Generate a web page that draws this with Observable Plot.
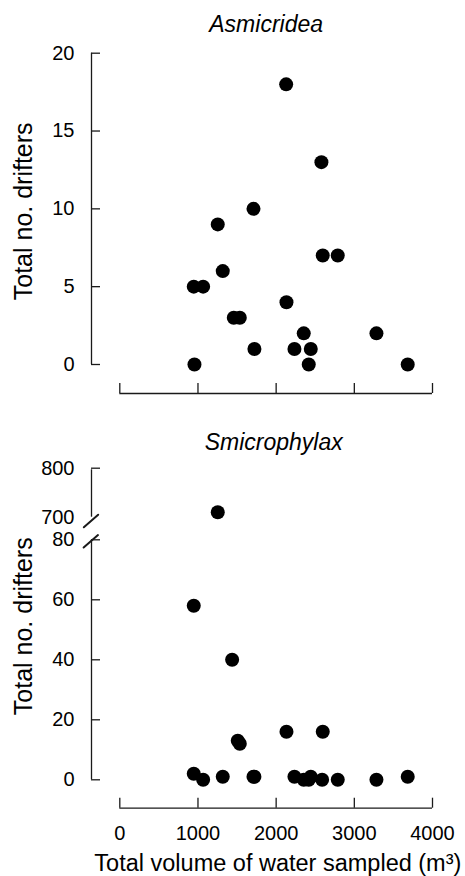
<!DOCTYPE html>
<html><head><meta charset="utf-8">
<script src="https://cdn.jsdelivr.net/npm/d3@7"></script>
<script src="https://cdn.jsdelivr.net/npm/@observablehq/plot@0.6"></script>
<style>
body{margin:0;background:#fff;}
#chart{position:relative;width:465px;height:876px;overflow:hidden;}
#chart svg{position:absolute;left:0;}
</style></head><body><div id="chart"></div>
<script>
// ---- data ----
const xTicks = [0, 1000, 2000, 3000, 4000];
const asmTitle = "Asmicridea";
const asmVolume   = [955, 946, 1066, 1253, 1317, 1458, 1535, 1710, 1722, 2128, 2132, 2234, 2353, 2443, 2417, 2579, 2596, 2788, 3283, 3683];
const asmDrifters = [0, 5, 5, 9, 6, 3, 3, 10, 1, 18, 4, 1, 2, 1, 0, 13, 7, 7, 2, 0];
const asmYTicks = [0, 5, 10, 15, 20];

const smiTitle = "Smicrophylax";
const smiVolume   = [1253, 946, 1437, 1509, 1535, 2132, 2596, 946, 1066, 1317, 1710, 1722, 2234, 2353, 2417, 2443, 2588, 2788, 3283, 3683];
const smiDrifters = [710, 58, 40, 13, 12, 16, 16, 2, 0, 1, 1, 1, 1, 0, 0, 1, 0, 0, 0, 1];
const smiLowTicks = [0, 20, 40, 60, 80];
const smiHighTicks = [700, 800];

const yLabel = "Total no. drifters";
const xLabel = "Total volume of water sampled (m³)";

// ---- build ----
const FONT = '"Liberation Sans", Arial, Helvetica, sans-serif';
const AX = "#1a1a1a";
const AXW = 1.3;
const W = 465, ML = 119.3, MR = 33;
const style = {fontFamily: FONT, color: "#000", background: "transparent", overflow: "visible"};
const fmt = d => String(d);

const asmRows = asmVolume.map((v, i) => ({volume: v, drifters: asmDrifters[i]}));
const smiRows = smiVolume.map((v, i) => ({volume: v, drifters: smiDrifters[i]}));
const breakAt = smiLowTicks[smiLowTicks.length - 1];
const smiHigh = smiRows.filter(d => d.drifters > breakAt);
const smiLow = smiRows.filter(d => d.drifters <= breakAt);

const slashShape = {draw(ctx, l) { ctx.moveTo(0, 0); ctx.lineTo(0, -l); }};
function slash(frameAnchor, dx, dy) {
  try {
    return Plot.vector([0], {frameAnchor, dx, dy, length: 19, rotate: 49, anchor: "middle", shape: slashShape, stroke: AX, strokeWidth: 2});
  } catch (e) {
    return Plot.text(["\u2014"], {frameAnchor, dx, dy, rotate: -49, fontSize: 22, fontWeight: "bold"});
  }
}

const chart = document.getElementById("chart");
function place(svg, top) { svg.style.top = top + "px"; chart.appendChild(svg); }

// Top panel
const topPlot = Plot.plot({
  width: W, height: 420,
  marginLeft: ML, marginRight: MR, marginTop: 52.7, marginBottom: 56,
  x: {domain: [xTicks[0], xTicks[xTicks.length - 1]]},
  y: {domain: [asmYTicks[0], asmYTicks[asmYTicks.length - 1]]},
  style,
  marks: [
    Plot.ruleX([xTicks[0]], {y1: asmYTicks[0], y2: asmYTicks[asmYTicks.length - 1], dx: -28.3, stroke: AX, strokeWidth: AXW}),
    Plot.axisY(asmYTicks, {dx: -19.3, tickSize: 9, tickPadding: 17, fontSize: 20, label: null, tickFormat: fmt, stroke: AX, strokeWidth: AXW, fill: "#000"}),
    Plot.ruleY([asmYTicks[0]], {x1: xTicks[0], x2: xTicks[xTicks.length - 1], dy: 29, stroke: AX, strokeWidth: AXW}),
    Plot.axisX(xTicks, {dy: 19, tickSize: 10, fill: "none", label: null, stroke: AX, strokeWidth: AXW}),
    Plot.dot(asmRows, {x: "volume", y: "drifters", r: 7, fill: "#000"}),
    Plot.text([asmTitle], {frameAnchor: "top", lineAnchor: "middle", textAnchor: "middle", dx: -10, dy: -29, fontSize: 23, fontStyle: "italic"}),
    Plot.text([yLabel], {frameAnchor: "left", textAnchor: "middle", lineAnchor: "middle", rotate: -90, dx: -96, dy: 2.5, fontSize: 25})
  ]
});
place(topPlot, 0);

// Bottom panel, upper segment
const upPlot = Plot.plot({
  width: W, height: 110,
  marginLeft: ML, marginRight: MR, marginTop: 47.7, marginBottom: 13.3,
  x: {domain: [xTicks[0], xTicks[xTicks.length - 1]], axis: null},
  y: {domain: [smiHighTicks[0], smiHighTicks[smiHighTicks.length - 1]]},
  style,
  marks: [
    Plot.ruleX([xTicks[0]], {y1: smiHighTicks[0], y2: smiHighTicks[smiHighTicks.length - 1], dx: -28.3, insetBottom: -1.6, stroke: AX, strokeWidth: AXW}),
    Plot.axisY(smiHighTicks.slice(1), {dx: -19.3, tickSize: 9, fill: "none", label: null, stroke: AX, strokeWidth: AXW}),
    Plot.axisY(smiHighTicks, {dx: -19.3, tickSize: 9, tickPadding: 17, fontSize: 20, label: null, tickFormat: fmt, stroke: "none", fill: "#000"}),
    slash("bottom-left", -28.8, 3.8),
    Plot.dot(smiHigh, {x: "volume", y: "drifters", r: 7, fill: "#000"}),
    Plot.text([smiTitle], {frameAnchor: "top", lineAnchor: "middle", textAnchor: "middle", dx: -2.5, dy: -25.5, fontSize: 23, fontStyle: "italic"})
  ]
});
place(upPlot, 420);

// Bottom panel, lower segment
const lowPlot = Plot.plot({
  width: W, height: 346,
  marginLeft: ML, marginRight: MR, marginTop: 9.3, marginBottom: 96.7,
  x: {domain: [xTicks[0], xTicks[xTicks.length - 1]]},
  y: {domain: [smiLowTicks[0], smiLowTicks[smiLowTicks.length - 1]]},
  style,
  marks: [
    Plot.ruleX([xTicks[0]], {y1: smiLowTicks[0], y2: smiLowTicks[smiLowTicks.length - 1], dx: -28.3, stroke: AX, strokeWidth: AXW}),
    Plot.axisY(smiLowTicks, {dx: -19.3, tickSize: 9, tickPadding: 17, fontSize: 20, label: null, tickFormat: fmt, stroke: AX, strokeWidth: AXW, fill: "#000"}),
    slash("top-left", -29, 1.5),
    Plot.ruleY([smiLowTicks[0]], {x1: xTicks[0], x2: xTicks[xTicks.length - 1], dy: 28.4, stroke: AX, strokeWidth: AXW}),
    Plot.axisX(xTicks, {dy: 18.4, tickSize: 10, tickPadding: 17.5, fontSize: 20, label: null, tickFormat: fmt, stroke: AX, strokeWidth: AXW, fill: "#000"}),
    Plot.dot(smiLow, {x: "volume", y: "drifters", r: 7, fill: "#000"}),
    Plot.text([yLabel], {frameAnchor: "left", textAnchor: "middle", lineAnchor: "middle", rotate: -90, dx: -96, dy: -33.5, fontSize: 25}),
    Plot.text([xLabel], {frameAnchor: "bottom", textAnchor: "middle", lineAnchor: "middle", dx: 1.7, dy: 83.5, fontSize: 23.5})
  ]
});
place(lowPlot, 530);
</script>
</body></html>
